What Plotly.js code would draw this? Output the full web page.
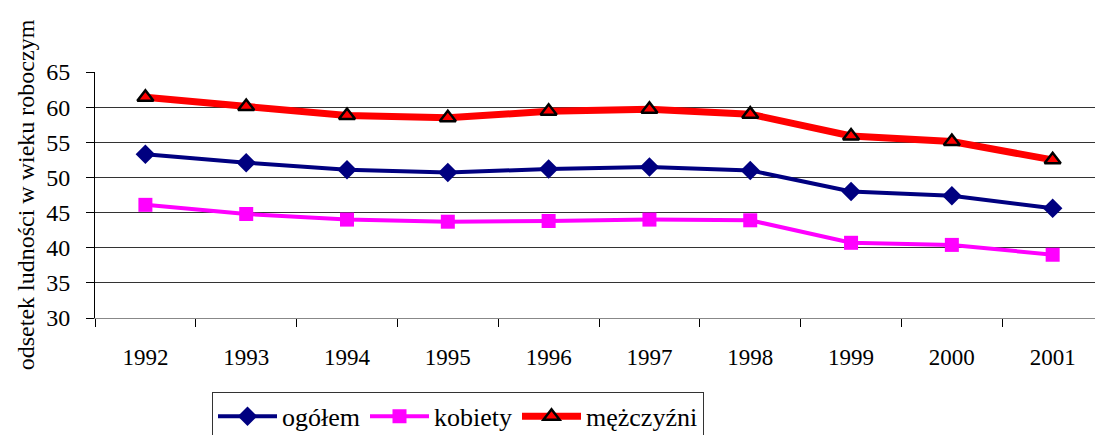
<!DOCTYPE html>
<html><head><meta charset="utf-8">
<script src="https://cdn.plot.ly/plotly-3.0.1.min.js"></script>
<style>body{margin:0;padding:0;background:#fff}#chart{width:1095px;height:435px}</style>
</head><body><div id="chart"></div>
<script>
const years = ["1992","1993","1994","1995","1996","1997","1998","1999","2000","2001"];
const ogolem = [53.3,52.1,51.1,50.7,51.2,51.5,51.0,48.0,47.4,45.6];
const kobiety = [46.1,44.8,44.0,43.7,43.8,44.0,43.9,40.7,40.4,39.0];
const mezczyzni = [61.4,60.1,58.8,58.5,59.4,59.7,59.0,55.9,55.1,52.5];
const seriesNames = ["ogółem","kobiety","mężczyźni"];
const yTicks = [30,35,40,45,50,55,60,65];

const font = "'Liberation Serif', 'Times New Roman', serif";
const traces = [
  {x: years, y: ogolem, name: seriesNames[0], type: "scatter", mode: "lines+markers",
   line: {color: "#000080", width: 4}, marker: {symbol: "diamond", size: 15, color: "#000080"}},
  {x: years, y: kobiety, name: seriesNames[1], type: "scatter", mode: "lines+markers",
   line: {color: "#FF00FF", width: 4}, marker: {symbol: "square", size: 14, color: "#FF00FF"}},
  {x: years, y: mezczyzni, name: seriesNames[2], type: "scatter", mode: "lines+markers",
   line: {color: "#FF0000", width: 7}, marker: {symbol: "triangle-up", size: 14, color: "#FF0000", line: {color: "#000", width: 2.5}}}
];
const layout = {
  width: 1095, height: 435,
  margin: {l: 95, r: 0, t: 72, b: 117, autoexpand: false},
  paper_bgcolor: "#fff", plot_bgcolor: "#fff",
  font: {family: font, color: "#000"},
  showlegend: true,
  legend: {orientation: "h", x: 0.117, xanchor: "left", y: -0.30, yanchor: "top",
    bordercolor: "#333", borderwidth: 1, font: {family: font, size: 26, color: "#000"},
    itemwidth: 59, tracegroupgap: 0, bgcolor: "#fff"},
  xaxis: {type: "category", range: [-0.5, 9.42], tickson: "boundaries", ticks: "outside",
    ticklen: 8, tickcolor: "#000", showgrid: false, showline: true, linecolor: "#888", linewidth: 1,
    ticklabelstandoff: 18, automargin: false,
    tickfont: {family: font, size: 23, color: "#000"}, fixedrange: true},
  yaxis: {range: [30, 65], tickvals: yTicks, ticks: "outside", ticklen: 8, tickcolor: "#000",
    showgrid: true, gridcolor: "#333", gridwidth: 1, showline: true, linecolor: "#000", linewidth: 1,
    ticklabelstandoff: 11, automargin: false,
    zeroline: false, tickfont: {family: font, size: 24, color: "#000"},
    title: {text: "odsetek ludności w wieku roboczym", font: {family: font, size: 24, color: "#000"}, standoff: 4}}
};
Plotly.newPlot("chart", traces, layout, {displayModeBar: false, staticPlot: true});
</script></body></html>
